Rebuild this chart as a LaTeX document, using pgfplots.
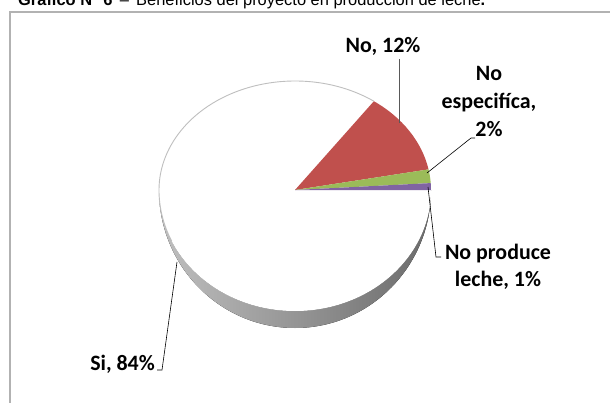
\documentclass[border=0pt]{standalone}
\usepackage{pgfplots}
\pgfplotsset{compat=1.18}
\usepackage{pgfplotstable}
\usepackage{fontspec}
\setmainfont{Carlito}
\newfontfamily\arial{Liberation Sans}
\definecolor{slRed}{HTML}{C0504D}
\definecolor{slGreen}{HTML}{9BBB59}
\definecolor{slPurple}{HTML}{8064A2}

\pgfplotstableread{
label value
Si 84
No 12
NoEsp 2
NoProd 1
}\piedata
\pgfplotstablegetelem{0}{value}\of\piedata \let\vSi\pgfplotsretval
\pgfplotstablegetelem{1}{value}\of\piedata \let\vNo\pgfplotsretval
\pgfplotstablegetelem{2}{value}\of\piedata \let\vEsp\pgfplotsretval
\pgfplotstablegetelem{3}{value}\of\piedata \let\vProd\pgfplotsretval
\pgfmathsetmacro\tot{\vSi+\vNo+\vEsp+\vProd}
\pgfmathsetmacro\aA{360*\vProd/\tot}
\pgfmathsetmacro\aB{\aA+360*\vEsp/\tot}
\pgfmathsetmacro\aC{\aB+360*\vNo/\tot}

\def\cx{295}
\def\cy{190}

\begin{document}
\begin{tikzpicture}
\useasboundingbox (0,0) rectangle (610bp,403bp);
\clip (0,0) rectangle (610bp,403bp);
\begin{axis}[at={(0,0)}, anchor=south west, width=610bp, height=403bp,
  scale only axis, xmin=0, xmax=610, ymin=0, ymax=403, y dir=reverse,
  hide axis, clip=false]
% frame
\draw[gray!60, line width=1.3bp] (axis cs:10,430) -- (axis cs:10,12) -- (axis cs:640,12);
% title
\node[anchor=base west, inner sep=0pt, font=\arial\fontsize{16.5}{20}\selectfont]
  at (axis cs:18,6) {\textbf{Gráfico N° 6} \,–\, Beneficios del proyecto en producción de leche\textbf{.}};
% rim (side wall)
\fill[left color=black!25, middle color=black!64, right color=black!58]
  (axis cs:159,\cy) arc[start angle=180, end angle=360, x radius=136bp, y radius=138bp]
  arc[start angle=0, end angle=-180, x radius=136bp, y radius=121bp] -- cycle;
% white slice (Si)
\fill[white] (axis cs:\cx,\cy) -- ++(\aC:136bp and 109bp)
  arc[start angle=\aC, end angle=180, x radius=136bp, y radius=109bp]
  arc[start angle=180, end angle=360, x radius=136bp, y radius=121bp] -- cycle;
% No
\fill[slRed] (axis cs:\cx,\cy) -- ++(\aB:136bp and 109bp)
  arc[start angle=\aB, end angle=\aC, x radius=136bp, y radius=109bp] -- cycle;
% No especifica
\fill[slGreen] (axis cs:\cx,\cy) -- ++(\aA:136bp and 109bp)
  arc[start angle=\aA, end angle=\aB, x radius=136bp, y radius=109bp] -- cycle;
% No produce leche
\fill[slPurple] (axis cs:\cx,\cy) -- ++(0:136bp and 109bp)
  arc[start angle=0, end angle=\aA, x radius=136bp, y radius=109bp] -- cycle;
% outline of top face (back)
\draw[gray!50, line width=0.9bp] (axis cs:\cx,\cy) ++(\aC:136bp and 109bp)
  arc[start angle=\aC, end angle=180, x radius=136bp, y radius=109bp]
  arc[start angle=180, end angle=205, x radius=136bp, y radius=121bp];
% leader lines
\draw[gray!70!black, line width=0.7bp] (axis cs:399,59) -- (axis cs:399,123);
\draw[black, line width=0.6bp] (axis cs:427,173) -- (axis cs:471,138) -- (axis cs:475,138);
\draw[black, line width=0.6bp] (axis cs:428,187) -- (axis cs:436,257) -- (axis cs:441,257);
\draw[black, line width=0.6bp] (axis cs:157,370) -- (axis cs:162,370) -- (axis cs:177,262);
% labels
\begin{scope}[every node/.style={inner sep=0pt, font=\bfseries\fontsize{22}{27}\selectfont}]
\node[anchor=base] at (axis cs:383,53) {No, 12\%};
\node[anchor=base] at (axis cs:489,81) {No};
\node[anchor=base] at (axis cs:489,108) {especifíca,};
\node[anchor=base] at (axis cs:489,136) {2\%};
\node[anchor=base] at (axis cs:498,259) {No produce};
\node[anchor=base] at (axis cs:498,286) {leche, 1\%};
\node[anchor=base east] at (axis cs:155,370) {Si, 84\%};
\end{scope}
\end{axis}
\end{tikzpicture}
\end{document}
